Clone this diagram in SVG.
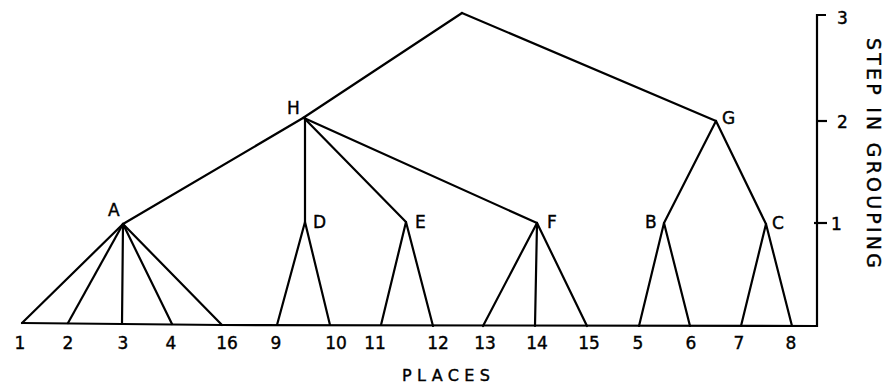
<svg xmlns="http://www.w3.org/2000/svg" width="891" height="386" viewBox="0 0 891 386">
<style>
.ln{stroke:#000;stroke-width:2.2;fill:none;stroke-linecap:round;stroke-linejoin:round}
.ax{stroke:#000;stroke-width:2.2;fill:none}
text{font-family:"DejaVu Sans","Liberation Sans",sans-serif;fill:#000;stroke:#000;stroke-width:0.4}
.nl{font-size:17px}
.pl{font-size:17px;text-anchor:middle}
.tk{font-size:17px}
</style>
<rect width="891" height="386" fill="#fff"/>
<g id="connectors">
<line class="ln" x1="462" y1="13" x2="303" y2="118"/>
<line class="ln" x1="462" y1="13" x2="716" y2="121"/>
<line class="ln" x1="303" y1="118" x2="123" y2="224"/>
<line class="ln" x1="305" y1="118" x2="305" y2="222"/>
<line class="ln" x1="304" y1="118" x2="406" y2="222"/>
<line class="ln" x1="304" y1="118" x2="537" y2="223"/>
<line class="ln" x1="716" y1="121" x2="664" y2="223"/>
<line class="ln" x1="716" y1="121" x2="766" y2="224"/>
<line class="ln" x1="123" y1="224" x2="22" y2="323"/>
<line class="ln" x1="123" y1="224" x2="68" y2="323"/>
<line class="ln" x1="123" y1="224" x2="122" y2="324"/>
<line class="ln" x1="123" y1="224" x2="172" y2="324"/>
<line class="ln" x1="123" y1="224" x2="222" y2="325"/>
<line class="ln" x1="305" y1="222" x2="277" y2="325"/>
<line class="ln" x1="305" y1="222" x2="330" y2="325"/>
<line class="ln" x1="406" y1="222" x2="381" y2="325"/>
<line class="ln" x1="406" y1="222" x2="433" y2="326"/>
<line class="ln" x1="537" y1="223" x2="483" y2="326"/>
<line class="ln" x1="537" y1="223" x2="535" y2="326"/>
<line class="ln" x1="537" y1="223" x2="587" y2="326"/>
<line class="ln" x1="664" y1="223" x2="639" y2="326"/>
<line class="ln" x1="664" y1="223" x2="690" y2="326"/>
<line class="ln" x1="766" y1="224" x2="741" y2="326"/>
<line class="ln" x1="766" y1="224" x2="792" y2="326"/>
<polyline class="ln" points="22,323 222,325 817,326"/>
</g>
<g id="axis">
<polyline class="ax" points="826,15 817,15 817,326 792,326"/>
<line class="ax" x1="817" y1="121" x2="827" y2="121"/>
<line class="ax" x1="814" y1="223" x2="827" y2="223"/>
<text class="tk" x="837" y="24">3</text>
<text class="tk" x="837" y="128">2</text>
<text class="tk" x="831" y="230">1</text>
<text transform="translate(867,38) rotate(90)" font-size="19" textLength="230" lengthAdjust="spacing">STEP IN GROUPING</text>
</g>
<g id="node-top"></g>
<g id="node-H"><text class="nl" x="287" y="114">H</text></g>
<g id="node-G"><text class="nl" x="722" y="124">G</text></g>
<g id="node-A"><text class="nl" x="108" y="216">A</text></g>
<g id="node-D"><text class="nl" x="313" y="228">D</text></g>
<g id="node-E"><text class="nl" x="415" y="228">E</text></g>
<g id="node-F"><text class="nl" x="547" y="228">F</text></g>
<g id="node-B"><text class="nl" x="645" y="228">B</text></g>
<g id="node-C"><text class="nl" x="772" y="229">C</text></g>
<g id="places">
<text class="pl" x="20" y="349">1</text>
<text class="pl" x="68" y="349">2</text>
<text class="pl" x="123" y="349">3</text>
<text class="pl" x="171" y="349">4</text>
<text class="pl" x="227" y="349">16</text>
<text class="pl" x="276" y="349">9</text>
<text class="pl" x="336" y="349">10</text>
<text class="pl" x="375" y="349">11</text>
<text class="pl" x="438" y="349">12</text>
<text class="pl" x="485" y="349">13</text>
<text class="pl" x="537" y="349">14</text>
<text class="pl" x="589" y="349">15</text>
<text class="pl" x="638" y="349">5</text>
<text class="pl" x="691" y="349">6</text>
<text class="pl" x="739" y="349">7</text>
<text class="pl" x="791" y="349">8</text>
<text x="402" y="381" font-size="16" textLength="88" lengthAdjust="spacing">PLACES</text>
</g>
</svg>
